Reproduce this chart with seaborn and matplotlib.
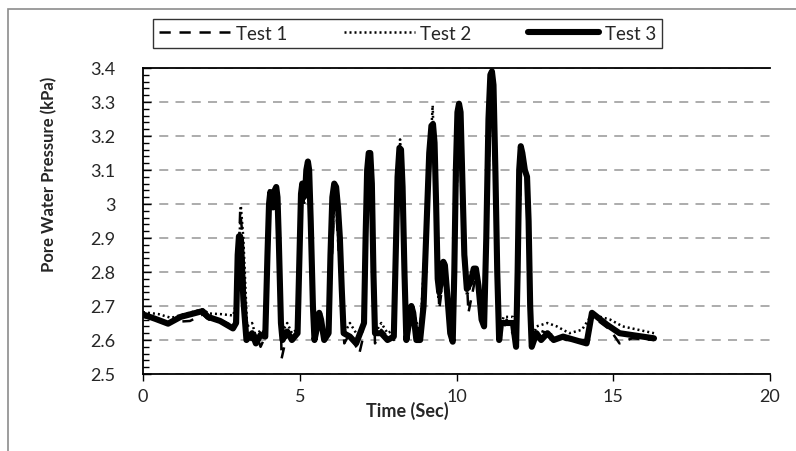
import pandas as pd
import matplotlib
matplotlib.use("Agg")
import matplotlib.pyplot as plt
from matplotlib import font_manager
from matplotlib.ticker import MultipleLocator
from matplotlib.patches import Rectangle
import seaborn as sns

# pore water pressure readings (kPa) against time (s)
t1 = [0.00, 0.80, 1.50, 1.90, 2.10, 2.50, 2.90, 3.00, 3.10, 3.18, 3.30, 3.45, 3.60, 3.75, 3.90,
      4.03, 4.12, 4.25, 4.35, 4.42, 4.60, 4.75, 4.90, 5.06, 5.14, 5.26, 5.45, 5.60, 5.76, 5.92,
      6.12, 6.42, 6.60, 6.90, 7.00, 7.22, 7.40, 7.60, 7.80, 8.00, 8.20, 8.40, 8.56, 8.84, 9.24,
      9.45, 9.60, 9.88, 10.08, 10.38, 10.62, 10.88, 11.12, 11.36, 11.60, 11.93, 12.06, 12.25,
      12.40, 12.60, 12.90, 13.20, 13.50, 14.15, 14.32, 14.90, 15.20, 15.60, 16.30]
p1 = [2.668, 2.652, 2.656, 2.675, 2.660, 2.658, 2.640, 2.700, 2.980, 2.900, 2.620, 2.600, 2.620,
      2.580, 2.610, 3.030, 2.990, 3.040, 2.900, 2.545, 2.620, 2.590, 2.620, 3.050, 3.000, 3.120,
      2.600, 2.660, 2.600, 2.610, 3.050, 2.590, 2.620, 2.560, 2.600, 3.150, 2.590, 2.630, 2.610,
      2.600, 3.170, 2.600, 2.690, 2.600, 3.240, 2.690, 2.800, 2.600, 3.280, 2.680, 2.790, 2.640,
      3.380, 2.600, 2.660, 2.590, 3.160, 3.080, 2.590, 2.630, 2.620, 2.610, 2.600, 2.600, 2.670,
      2.630, 2.590, 2.605, 2.600]

t2 = [0.00, 0.50, 0.90, 1.30, 1.90, 2.10, 2.50, 2.88, 3.00, 3.12, 3.20, 3.32, 3.48, 3.60, 3.75,
      3.90, 4.03, 4.12, 4.25, 4.42, 4.60, 4.75, 4.90, 5.06, 5.14, 5.26, 5.45, 5.60, 5.76, 5.92,
      6.12, 6.42, 6.60, 6.80, 7.00, 7.22, 7.40, 7.60, 7.80, 8.00, 8.20, 8.40, 8.56, 8.84, 9.24,
      9.42, 9.60, 9.88, 10.08, 10.33, 10.62, 10.88, 11.12, 11.36, 11.50, 11.80, 11.93, 12.06,
      12.25, 12.40, 12.55, 12.90, 13.20, 13.60, 14.00, 14.32, 14.90, 15.30, 16.30]
p2 = [2.682, 2.676, 2.665, 2.676, 2.690, 2.678, 2.676, 2.672, 2.720, 2.995, 2.900, 2.640, 2.650,
      2.610, 2.630, 2.620, 3.040, 3.000, 3.050, 2.620, 2.650, 2.620, 2.630, 3.060, 3.000, 3.120,
      2.620, 2.680, 2.620, 2.640, 3.060, 2.620, 2.650, 2.620, 2.620, 3.150, 2.620, 2.650, 2.620,
      2.630, 3.190, 2.620, 2.700, 2.620, 3.290, 2.720, 2.820, 2.610, 3.285, 2.730, 2.800, 2.660,
      3.380, 2.620, 2.668, 2.668, 2.600, 3.165, 3.085, 2.600, 2.640, 2.650, 2.640, 2.620, 2.630,
      2.675, 2.660, 2.640, 2.620]

t3 = [0.00, 0.40, 0.80, 1.20, 1.90, 2.07, 2.46, 2.87, 2.97, 3.02, 3.06, 3.10, 3.14, 3.20, 3.30,
      3.48, 3.60, 3.75, 3.90, 3.97, 4.02, 4.06, 4.11, 4.15, 4.20, 4.25, 4.29, 4.33, 4.40, 4.45,
      4.60, 4.75, 4.93, 4.99, 5.04, 5.08, 5.13, 5.17, 5.21, 5.26, 5.30, 5.35, 5.42, 5.47, 5.56,
      5.62, 5.68, 5.78, 5.92, 5.98, 6.04, 6.10, 6.16, 6.22, 6.28, 6.34, 6.40, 6.60, 6.80, 7.05,
      7.10, 7.15, 7.20, 7.25, 7.30, 7.35, 7.40, 7.60, 7.80, 8.00, 8.06, 8.12, 8.18, 8.23, 8.28,
      8.34, 8.40, 8.50, 8.56, 8.62, 8.72, 8.84, 8.95, 9.05, 9.13, 9.20, 9.25, 9.30, 9.35, 9.40,
      9.45, 9.52, 9.58, 9.63, 9.70, 9.80, 9.88, 9.93, 9.98, 10.03, 10.08, 10.13, 10.18, 10.25,
      10.33, 10.45, 10.55, 10.62, 10.70, 10.80, 10.88, 10.95, 11.02, 11.08, 11.13, 11.18, 11.24,
      11.30, 11.36, 11.42, 11.80, 11.90, 11.95, 12.00, 12.05, 12.10, 12.18, 12.25, 12.30, 12.35,
      12.40, 12.55, 12.70, 12.90, 13.10, 13.40, 14.15, 14.32, 14.80, 15.20, 16.30]
p3 = [2.675, 2.662, 2.648, 2.668, 2.685, 2.668, 2.656, 2.634, 2.650, 2.850, 2.905, 2.905, 2.860,
      2.720, 2.600, 2.620, 2.590, 2.615, 2.610, 2.850, 3.000, 3.035, 3.000, 2.990, 3.040, 3.050,
      3.020, 2.900, 2.650, 2.600, 2.625, 2.600, 2.620, 2.850, 3.030, 3.060, 3.020, 3.030, 3.100,
      3.125, 3.100, 2.950, 2.700, 2.600, 2.640, 2.680, 2.660, 2.600, 2.620, 2.850, 3.020, 3.060,
      3.050, 2.990, 2.900, 2.750, 2.620, 2.610, 2.590, 2.650, 2.900, 3.100, 3.150, 3.150, 3.060,
      2.800, 2.620, 2.620, 2.600, 2.610, 2.850, 3.080, 3.165, 3.160, 3.050, 2.800, 2.600, 2.660,
      2.700, 2.680, 2.600, 2.600, 2.700, 2.950, 3.150, 3.230, 3.235, 3.180, 3.000, 2.780, 2.740,
      2.790, 2.830, 2.820, 2.740, 2.620, 2.595, 2.800, 3.100, 3.270, 3.295, 3.270, 3.100, 2.850,
      2.750, 2.770, 2.810, 2.810, 2.760, 2.660, 2.640, 2.900, 3.250, 3.380, 3.390, 3.350, 3.100,
      2.800, 2.600, 2.650, 2.650, 2.580, 2.800, 3.100, 3.170, 3.150, 3.100, 3.080, 2.950, 2.700,
      2.580, 2.620, 2.600, 2.620, 2.600, 2.610, 2.590, 2.680, 2.645, 2.620, 2.605]

tests = ["Test 1", "Test 2", "Test 3"]

df1 = pd.DataFrame({"Time": t1, "PWP": p1})
df2 = pd.DataFrame({"Time": t2, "PWP": p2})
df3 = pd.DataFrame({"Time": t3, "PWP": p3})

sns.set_style("white")
plt.rcParams["font.family"] = ["Lato", "DejaVu Sans"]

# narrow font for the y label if there is one
installed = {f.name for f in font_manager.fontManager.ttflist}
if "Liberation Sans Narrow" in installed:
    ylab_font = dict(family="Liberation Sans Narrow", fontsize=14.5, fontweight="bold")
else:
    ylab_font = dict(family="Lato", fontsize=12, fontweight="bold")

fig = plt.figure(figsize=(7.96, 4.52), dpi=100)
ax = fig.add_axes([143 / 796, 1 - 375 / 452, (770 - 143) / 796, (375 - 69) / 452])

sns.lineplot(data=df1, x="Time", y="PWP", ax=ax, color="black", linestyle=(0, (4.5, 3.5)),
             linewidth=1.8, label=tests[0], estimator=None, sort=False)
sns.lineplot(data=df2, x="Time", y="PWP", ax=ax, color="black", linestyle=(0, (0.8, 1.2)),
             linewidth=1.8, label=tests[1], estimator=None, sort=False)
sns.lineplot(data=df3, x="Time", y="PWP", ax=ax, color="black", linestyle="-",
             linewidth=4.4, label=tests[2], estimator=None, sort=False,
             solid_joinstyle="round", solid_capstyle="round")

ax.set_xlim(0, 20)
ax.set_ylim(2.5, 3.4)
ax.xaxis.set_major_locator(MultipleLocator(5))
ax.yaxis.set_minor_locator(MultipleLocator(0.02))
ax.set_yticks([2.5, 2.6, 2.7, 2.8, 2.9, 3.0, 3.1, 3.2, 3.3, 3.4])
ax.set_yticklabels(["2.5", "2.6", "2.7", "2.8", "2.9", "3", "3.1", "3.2", "3.3", "3.4"])

ax.tick_params(axis="x", which="major", direction="out", length=5, width=1, pad=5,
               labelsize=13, color="black", bottom=True)
ax.tick_params(axis="y", which="major", direction="in", length=6, width=1, pad=20,
               labelsize=13, color="black", left=True)
ax.tick_params(axis="y", which="minor", direction="in", length=4, width=1, color="black", left=True)

ax.yaxis.grid(True, which="major", color="#a6a6a6", linestyle=(0, (5, 4)), linewidth=1.3)
ax.xaxis.grid(False)
ax.set_axisbelow(True)

for side in ["left", "bottom", "top"]:
    ax.spines[side].set_color("black")
    ax.spines[side].set_linewidth(1.3)
ax.spines["right"].set_visible(False)

ax.set_xlabel("Time (Sec)", fontsize=13, fontweight="bold")
ax.xaxis.set_label_coords(0.422, -0.088)
ax.set_ylabel("Pore Water Pressure (kPa)", **ylab_font)
ax.yaxis.set_label_coords(-0.137, 0.655)

ax.legend_.remove()
handles, labels = ax.get_legend_handles_labels()
leg = fig.legend(handles, labels, ncol=3, loc="center", bbox_to_anchor=(407.5 / 796, 1 - 34.5 / 452),
                 frameon=True, fancybox=False, edgecolor="black", fontsize=13.5, handlelength=3.8,
                 columnspacing=3.0, borderpad=0.3, handletextpad=0.3, borderaxespad=0)
leg.get_frame().set_linewidth(1.0)

# outer chart border (only left and top edges are inside the picture)
fig.patches.append(Rectangle((8 / 796, -0.5), 1.5, 1 - 10 / 452 + 0.5, transform=fig.transFigure,
                             fill=False, edgecolor="#8c8c8c", linewidth=1.2))

fig.savefig("out.png", dpi=100)
